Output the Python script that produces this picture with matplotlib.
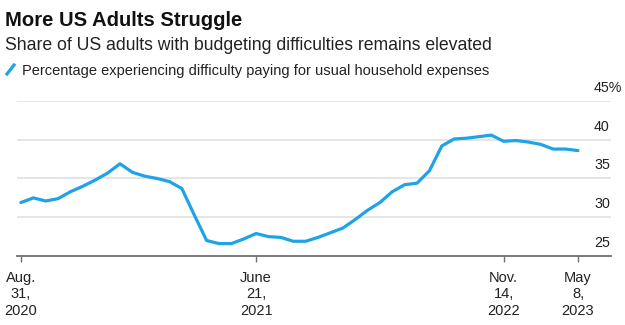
import numpy as np
import matplotlib
matplotlib.use('Agg')
from matplotlib import pyplot as plt
from matplotlib.lines import Line2D

plt.rcParams['font.family'] = ['Liberation Sans', 'DejaVu Sans']

# Household Pulse Survey weeks, equally spaced on the x axis
values = [31.9, 32.5, 32.1, 32.4, 33.3, 34.0, 34.8, 35.7, 36.9, 35.8,
          35.3, 35.0, 34.6, 33.7, 30.3, 27.0, 26.6, 26.6, 27.2, 27.9,
          27.5, 27.4, 26.9, 26.9, 27.4, 28.0, 28.6, 29.7, 30.9, 31.9,
          33.3, 34.2, 34.4, 36.0, 39.2, 40.1, 40.2, 40.4, 40.6, 39.8,
          39.9, 39.7, 39.4, 38.8, 38.8, 38.6]
tick_idx = [0, 19, 39, 45]
tick_labels = ['Aug.\n31,\n2020', 'June\n21,\n2021', 'Nov.\n14,\n2022', 'May\n8,\n2023']
y_ticks = [25, 30, 35, 40, 45]
y_labels = ['25', '30', '35', '40', '45%']

blue = '#1fa3e8'
W, H = 625, 325

fig = plt.figure(figsize=(W / 100, H / 100), dpi=100)
ax = fig.add_axes([17 / W, 1 - 256 / H, (611 - 17) / W, (256 - 101) / H])

x = np.arange(len(values))
ax.plot(x, values, color=blue, lw=2.3, solid_joinstyle='round', solid_capstyle='round', zorder=3)

ax.set_xlim(-0.32, 47.67)
ax.set_ylim(25, 45)

for yt in y_ticks[1:]:
    ax.axhline(yt, color='#e3e3e3', lw=1.3, zorder=1)
for yt, lab in zip(y_ticks, y_labels):
    ax.annotate(lab, xy=(0.9714, yt), xycoords=('axes fraction', 'data'),
                xytext=(0, 13), textcoords='offset pixels',
                ha='left', va='center', fontsize=10.3, color='#222222')

for s in ['top', 'right', 'left']:
    ax.spines[s].set_visible(False)
ax.spines['bottom'].set_color('#707070')
ax.spines['bottom'].set_linewidth(1.3)
ax.set_yticks([])
ax.set_xticks(tick_idx)
ax.set_xticklabels(tick_labels, fontsize=10.5, color='#222222', linespacing=1.2)
ax.tick_params(axis='x', length=4, width=1, color='#707070', pad=7)

fig.text(5 / W, 1 - 26 / H, 'More US Adults Struggle', fontsize=14.6, fontweight='bold',
         va='baseline', ha='left', color='#111111')
fig.text(5 / W, 1 - 50 / H, 'Share of US adults with budgeting difficulties remains elevated',
         fontsize=12.7, va='baseline', ha='left', color='#222222')
fig.text(22 / W, 1 - 75 / H, 'Percentage experiencing difficulty paying for usual household expenses',
         fontsize=10.5, va='baseline', ha='left', color='#222222')
fig.add_artist(Line2D([7 / W, 14 / W], [1 - 74 / H, 1 - 65 / H], color=blue, lw=2.3,
                      transform=fig.transFigure))

fig.savefig('out.png', dpi=100)
